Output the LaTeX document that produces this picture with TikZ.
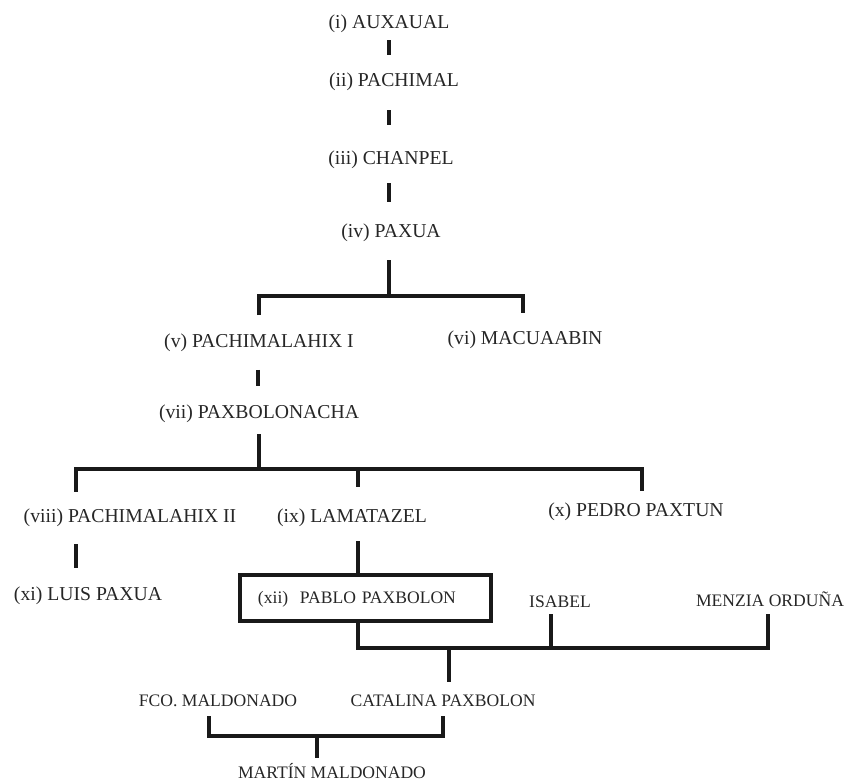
\documentclass[tikz,border=0pt]{standalone}
\usepackage{fontspec}
\setmainfont{Liberation Serif}
\usepackage{tikz}
\tikzstyle{nm}=[inner sep=0pt,text=black!85,font=\fontsize{14}{16}\selectfont,text height=9.3pt,text depth=0pt]
\tikzstyle{pn}=[inner sep=0pt,text=black!85,font=\fontsize{12.5}{15}\selectfont,text height=8.3pt,text depth=0pt]
\tikzstyle{bx}=[pn,draw=black!90,line width=2.3pt,inner xsep=0.45cm,text width=5.375cm,align=left,minimum height=1.15cm]
\tikzstyle{ln}=[line width=2.3pt,black!90]

\begin{document}
\begin{tikzpicture}[x=0.025cm,y=-0.025cm]
\useasboundingbox (0,0) rectangle (847,783);
% names
\node[nm] (auxaual) at (389,21.5) {(i) AUXAUAL};
\node[nm] (pachimal) at (394,79.5) {(ii) PACHIMAL};
\node[nm] (chanpel) at (391,157.5) {(iii) CHANPEL};
\node[nm] (paxua) at (391,230.5) {(iv) PAXUA};
\node[nm] (pachi1) at (259,341) {(v) PACHIMALAHIX I};
\node[nm] (macua) at (525,338) {(vi) MACUAABIN};
\node[nm] (paxbol) at (259,411.5) {(vii) PAXBOLONACHA};
\node[nm] (pachi2) at (130,516) {(viii) PACHIMALAHIX II};
\node[nm] (lamat) at (352,516) {(ix) LAMATAZEL};
\node[nm] (pedro) at (636,509.5) {(x) PEDRO PAXTUN};
\node[nm] (luis) at (88,594) {(xi) LUIS PAXUA};
\node[bx] (pablo) at (365.5,598) {(xii)~~PABLO PAXBOLON};
\node[pn] (isabel) at (560,602) {ISABEL};
\node[pn] (menzia) at (770,601) {MENZIA ORDUÑA};
\node[pn] (fco) at (218,701) {FCO. MALDONADO};
\node[pn] (catalina) at (443,701) {CATALINA PAXBOLON};
\node[pn] (martin) at (332,773) {MARTÍN MALDONADO};
% bars
\coordinate (fk1) at (389,296);
\coordinate (fk2) at (259,469);
\coordinate (fk3) at (449,648);
\coordinate (fk4) at (317,736);
% lines
\draw[ln] (auxaual.south) ++(0,12) -- ++(0,15);
\draw[ln] (pachimal.south) ++(-5,24) -- ++(0,15);
\draw[ln] (chanpel.south) ++(-2,19) -- ++(0,19);
\draw[ln] (paxua.south) ++(-2,23) -- (fk1);
\draw[ln] (pachi1.north) ++(0,-19) |- (fk1);
\draw[ln] (macua.north) ++(-2,-18.5) |- (fk1);
\draw[ln] (pachi1.south) ++(-1,22) -- ++(0,16);
\draw[ln] (paxbol.south) ++(0,16) -- (fk2);
\draw[ln] (pachi2.north) ++(-54,-17.5) |- (fk2);
\draw[ln] (lamat.north) ++(6,-22.5) |- (fk2);
\draw[ln] (pedro.north) ++(6,-12) |- (fk2);
\draw[ln] (pachi2.south) ++(-54,21.5) -- ++(0,24);
\draw[ln] (lamat.south) ++(6,18.5) coordinate (lmb) -- (lmb |- pablo.north);
\draw[ln] (pablo.south) ++(-7.5,0) |- (fk3);
\draw[ln] (isabel.south) ++(-9,6) |- (fk3);
\draw[ln] (menzia.south) ++(-2,7) |- (fk3);
\draw[ln] (catalina.north) ++(6,-13) -- (fk3);
\draw[ln] (fco.south) ++(-9,9) |- (fk4);
\draw[ln] (catalina.south) ++(0,9) |- (fk4);
\draw[ln] (martin.north) ++(-15,-9) -- (fk4);
\end{tikzpicture}
\end{document}
